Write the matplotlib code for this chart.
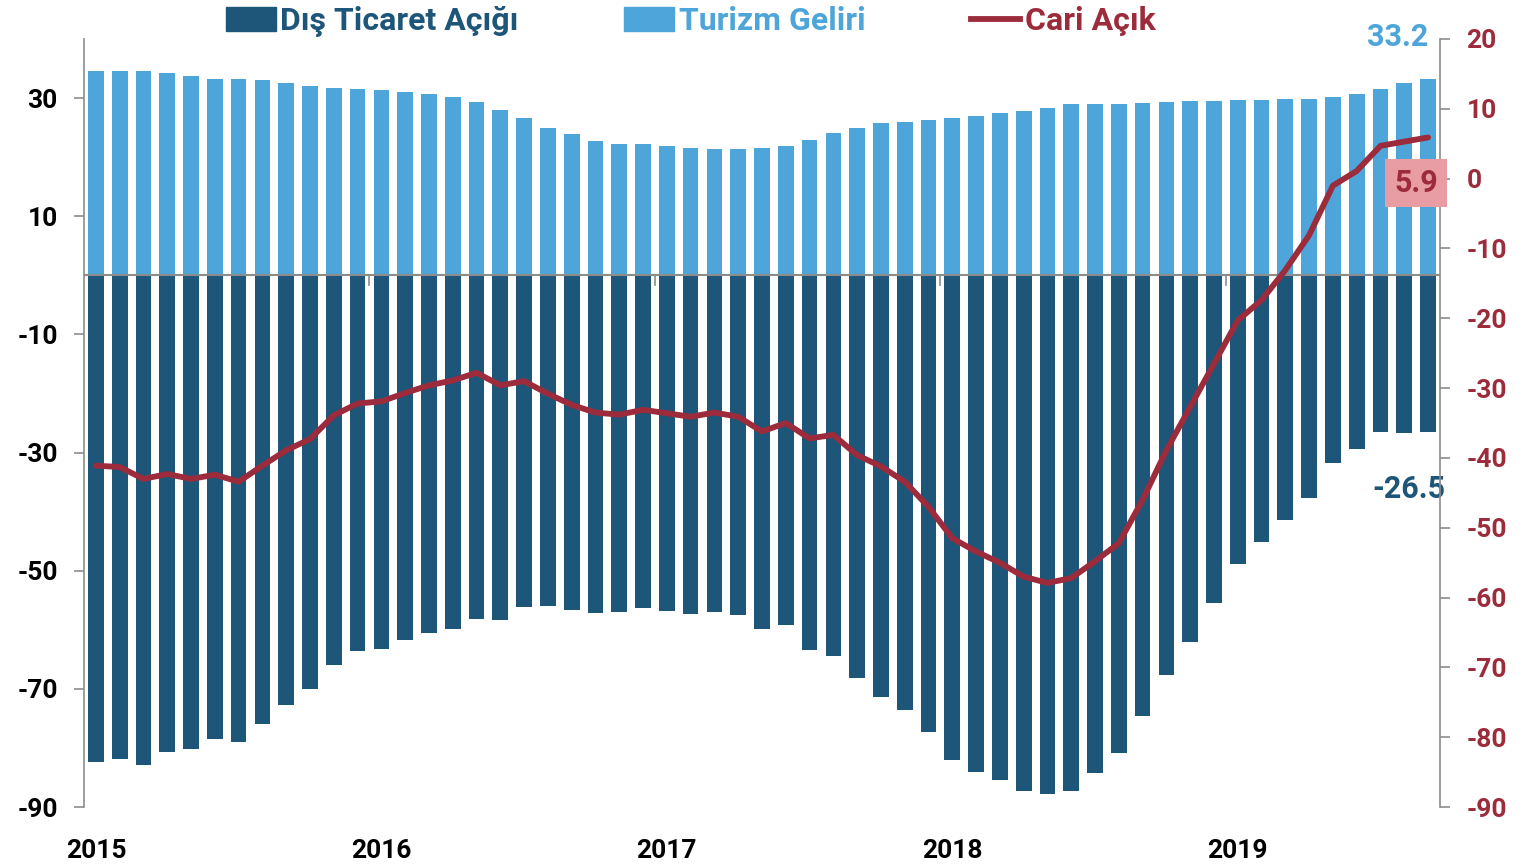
import numpy as np
import matplotlib
matplotlib.use("Agg")
import matplotlib.pyplot as plt
from matplotlib.patches import Patch
from matplotlib.lines import Line2D

plt.rcParams['font.family'] = ['Roboto', 'DejaVu Sans']
plt.rcParams['font.weight'] = 'bold'
plt.rcParams['axes.unicode_minus'] = False

# aylik seriler, Ocak 2015 - Eylul 2019 (milyar $, yillik toplam)
years = ['2015', '2016', '2017', '2018', '2019']

turizm = [34.6, 34.5, 34.5, 34.2, 33.7, 33.2, 33.2, 33.1, 32.6, 32.1, 31.7, 31.5,
          31.4, 31.1, 30.7, 30.2, 29.3, 28.0, 26.7, 25.0, 23.9, 22.8, 22.3, 22.2,
          21.9, 21.6, 21.4, 21.4, 21.5, 21.9, 22.9, 24.1, 25.0, 25.7, 26.0, 26.3,
          26.7, 27.0, 27.4, 27.8, 28.3, 29.0, 29.0, 29.0, 29.1, 29.4, 29.5, 29.5,
          29.7, 29.7, 29.8, 29.9, 30.2, 30.7, 31.6, 32.5, 33.2]

dis_ticaret = [-82.4, -81.9, -82.8, -80.6, -80.2, -78.5, -79.0, -75.9, -72.7, -70.0, -66.0, -63.6,
               -63.3, -61.7, -60.6, -59.8, -58.1, -58.4, -56.2, -55.9, -56.6, -57.1, -57.0, -56.3,
               -56.8, -57.3, -56.9, -57.5, -59.8, -59.2, -63.4, -64.5, -68.2, -71.4, -73.6, -77.3,
               -82.0, -84.1, -85.4, -87.2, -87.7, -87.2, -84.2, -80.8, -74.6, -67.7, -62.0, -55.4,
               -48.8, -45.2, -41.4, -37.7, -31.8, -29.4, -26.6, -26.7, -26.5]

cari = [-41.1, -41.3, -43.0, -42.3, -43.0, -42.4, -43.4, -41.1, -38.9, -37.3, -33.9, -32.2,
        -31.9, -30.7, -29.6, -28.9, -27.8, -29.6, -29.0, -30.8, -32.4, -33.5, -33.8, -33.1,
        -33.6, -34.1, -33.5, -34.1, -36.2, -35.0, -37.2, -36.7, -39.6, -41.2, -43.4, -47.0,
        -51.5, -53.4, -55.0, -57.0, -57.9, -57.2, -54.8, -52.2, -46.0, -38.9, -32.7, -26.5,
        -20.3, -17.4, -13.1, -8.1, -1.0, 1.1, 4.7, 5.3, 5.9]

c_dark = '#1d5679'
c_light = '#4ea5d9'
c_red = '#9c2b3b'
c_box = '#e89ca4'
c_grey = '#8c8c8c'

x = np.arange(len(turizm))

fig = plt.figure(figsize=(15.22, 8.66), dpi=100)
ax = fig.add_axes([0.0552, 0.068, 0.8909, 0.887])
ax2 = ax.twinx()

ax.bar(x, turizm, width=0.66, color=c_light, zorder=2)
ax.bar(x, dis_ticaret, width=0.66, color=c_dark, zorder=2)
ax.axhline(0, color=c_grey, lw=1.5, zorder=3)

ax2.plot(x, cari, color=c_red, lw=4.2, solid_joinstyle='round', solid_capstyle='round', zorder=4)

ax.set_xlim(-0.5, len(x) - 0.5)
ax.set_ylim(-90, 40)
ax2.set_ylim(-90, 20)

ax.set_yticks(np.arange(-90, 31, 20))
ax2.set_yticks(np.arange(-90, 21, 10))
ax.tick_params(axis='y', length=7, width=1.2, color=c_grey, labelsize=19, pad=12)
ax2.tick_params(axis='y', length=7, width=1.2, color=c_grey, labelsize=19, labelcolor=c_red, pad=12)
for lb in ax.get_yticklabels() + ax2.get_yticklabels():
    lb.set_fontweight('bold')

# yil sinirlari: sifir cizgisinde kucuk tikler
ax.set_xticks([])
for b in np.arange(11.5, len(x) - 1, 12):
    ax.plot([b, b], [0, -1.6], color=c_grey, lw=1.2, zorder=3)
for i, yl in enumerate(years):
    ax.text(i * 12, -0.042, yl, transform=ax.get_xaxis_transform(), ha='center', va='top',
            fontsize=19, fontweight='bold', color='black')

for a in (ax, ax2):
    a.spines['top'].set_visible(False)
    a.spines['bottom'].set_visible(False)
    a.spines['left'].set_color(c_grey)
    a.spines['right'].set_color(c_grey)
    a.spines['left'].set_linewidth(1.2)
    a.spines['right'].set_linewidth(1.2)
ax2.spines['left'].set_visible(False)
ax.spines['right'].set_visible(False)

# son deger etiketleri
ax.text(x[-1] - 1.3, turizm[-1] + 7.2, f'{turizm[-1]:.1f}', ha='center', va='center',
        fontsize=22, fontweight='bold', color=c_light)
ax.text(x[-1] - 0.8, dis_ticaret[-1] - 9.6, f'{dis_ticaret[-1]:.1f}', ha='center', va='center',
        fontsize=22, fontweight='bold', color=c_dark)
ax2.text(x[-1] - 0.5, cari[-1] - 6.5, f'{cari[-1]:.1f}', ha='center', va='center',
         fontsize=22, fontweight='bold', color=c_red, zorder=6,
         bbox=dict(boxstyle='square,pad=0.3', fc=c_box, ec='none'))

handles = [Patch(color=c_dark), Patch(color=c_light), Line2D([], [], color=c_red, lw=4.2)]
labels = ['Dış Ticaret Açığı', 'Turizm Geliri', 'Cari Açık']
leg = fig.legend(handles, labels, loc='center', bbox_to_anchor=(0.454, 0.975), ncol=3,
                 frameon=False, handlelength=1.55, handleheight=0.75,
                 handletextpad=0.15, columnspacing=3.3,
                 labelcolor=[c_dark, c_light, c_red], prop={'weight': 'bold', 'size': 23})

fig.savefig('out.png', dpi=100)
